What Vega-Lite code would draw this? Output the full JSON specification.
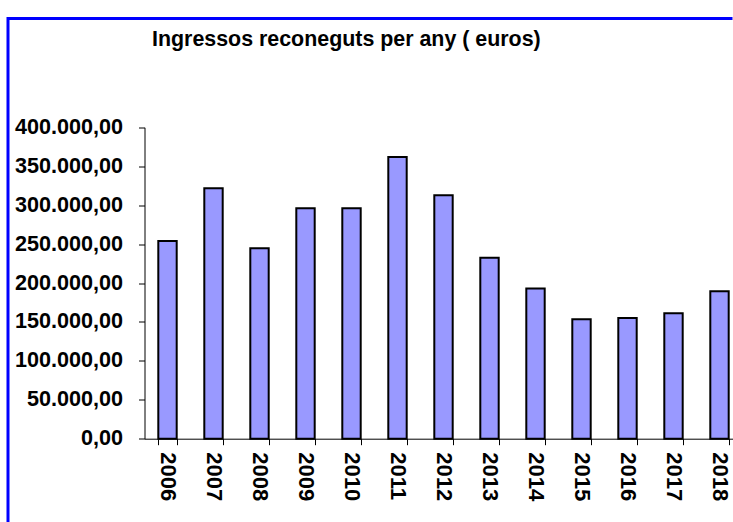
{
  "$schema": "https://vega.github.io/schema/vega-lite/v6.json",
  "autosize": {"type": "none"},
  "padding": {"left": 8, "top": 18.5, "right": 0, "bottom": 0},
  "width": 725,
  "height": 503.5,
  "background": "white",
  "config": {
    "locale": {"number": {"decimal": ",", "thousands": ".", "grouping": [3], "currency": ["", " €"]}},
    "view": {"stroke": "#0000FF", "strokeWidth": 3, "strokeDash": [723, 1230.5, 503.5, 0], "strokeCap": "square"},
    "font": "Liberation Sans"
  },
  "title": {
    "text": "Ingressos reconeguts per any ( euros)",
    "frame": "group",
    "anchor": "start",
    "orient": "top",
    "font": "Liberation Sans",
    "fontSize": 21.4,
    "fontWeight": "bold",
    "color": "black",
    "dx": 144,
    "dy": 52.5,
    "baseline": "alphabetic"
  },
  "data": {
    "values": [
      {"year": "2006", "value": 254000},
      {"year": "2007", "value": 321600},
      {"year": "2008", "value": 244500},
      {"year": "2009", "value": 296000},
      {"year": "2010", "value": 296000},
      {"year": "2011", "value": 362000},
      {"year": "2012", "value": 312600},
      {"year": "2013", "value": 232500},
      {"year": "2014", "value": 193000},
      {"year": "2015", "value": 153500},
      {"year": "2016", "value": 155000},
      {"year": "2017", "value": 161000},
      {"year": "2018", "value": 189300}
    ]
  },
  "mark": {"type": "bar", "fill": "#9999FF", "stroke": "black", "strokeWidth": 2},
  "encoding": {
    "x": {
      "field": "year",
      "type": "ordinal",
      "scale": {"range": [136.5, 734.5], "paddingInner": 0.6, "paddingOuter": 0.3},
      "axis": {
        "title": null,
        "offset": -83.3,
        "labelAngle": 90,
        "labelFont": "Liberation Sans",
        "labelFontSize": 22,
        "labelFontWeight": "bold",
        "labelColor": "black",
        "labelPadding": 7,
        "tickBand": "extent",
        "tickSize": 6,
        "tickColor": "black",
        "domainColor": "black",
        "domainWidth": 1,
        "grid": false
      }
    },
    "y": {
      "field": "value",
      "type": "quantitative",
      "scale": {"domain": [0, 400000], "range": [420.2, 108.8], "nice": false},
      "axis": {
        "title": null,
        "offset": -136.5,
        "values": [0, 50000, 100000, 150000, 200000, 250000, 300000, 350000, 400000],
        "format": ",.2f",
        "labelFont": "Liberation Sans",
        "labelFontSize": 21.6,
        "labelFontWeight": "bold",
        "labelColor": "black",
        "labelPadding": 16,
        "tickSize": 6,
        "tickColor": "black",
        "domainColor": "black",
        "domainWidth": 1,
        "grid": false
      }
    }
  }
}
